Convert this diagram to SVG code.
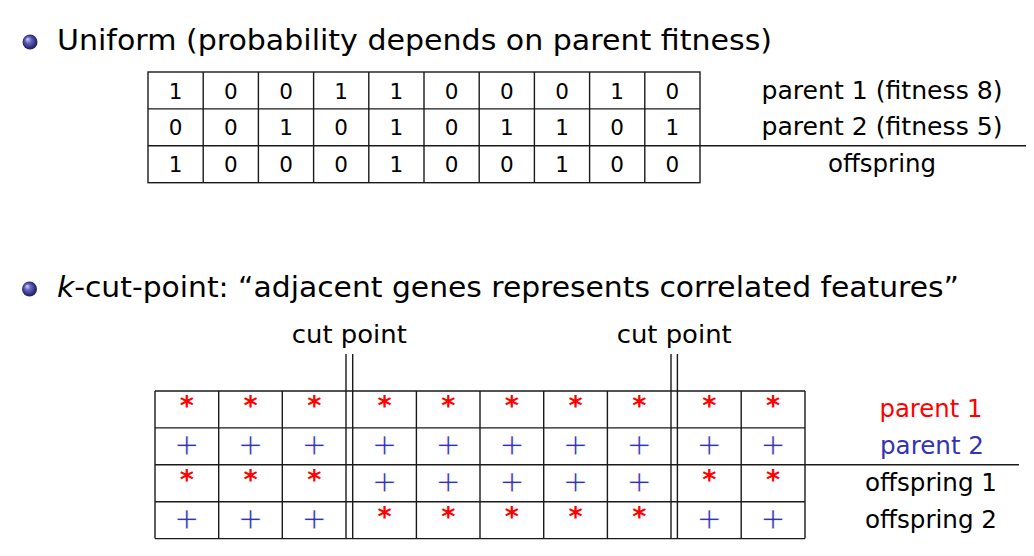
<svg xmlns="http://www.w3.org/2000/svg" width="1034" height="556" viewBox="0 0 1034 556">
<defs>
<radialGradient id="ball" cx="0.5" cy="0.5" r="0.55" fx="0.32" fy="0.3">
<stop offset="0" stop-color="#d8d8ff"/>
<stop offset="0.35" stop-color="#6a6ac0"/>
<stop offset="0.8" stop-color="#2a2a78"/>
<stop offset="1" stop-color="#15154a"/>
</radialGradient>
<style>
text{font-family:"DejaVu Sans","Liberation Sans",sans-serif;fill:#000}
.title{font-size:28px}
.dig{font-size:21.5px;text-anchor:middle}
.lab{font-size:24.5px;text-anchor:middle}
.grid{stroke:#1a1a1a;stroke-width:1.4;fill:none}
.ast{font-size:27px;font-weight:bold;text-anchor:middle;fill:#ff0000}
.pl{font-size:31px;text-anchor:middle;fill:#3333b3;stroke:#fff;stroke-width:0.8}
.red{fill:#ff0000}
.blue{fill:#3333b3}
</style>
</defs>
<rect width="1034" height="556" fill="#fff"/>

<g id="bullet1">
<circle cx="30" cy="42" r="7.5" fill="url(#ball)"/>
<text class="title" x="57" y="49.5" textLength="715" lengthAdjust="spacingAndGlyphs">Uniform (probability depends on parent fitness)</text>
</g>

<g id="uniform-table">
<rect class="grid" x="148" y="72" width="552" height="110.7"/>
<path class="grid" d="M203.2 72V182.7M258.4 72V182.7M313.6 72V182.7M368.8 72V182.7M424 72V182.7M479.2 72V182.7M534.4 72V182.7M589.6 72V182.7M644.8 72V182.7M148 108.9H700M148 145.8H700"/>
<g class="row1">
<text class="dig" x="175.6" y="98.5">1</text><text class="dig" x="230.8" y="98.5">0</text><text class="dig" x="286" y="98.5">0</text><text class="dig" x="341.2" y="98.5">1</text><text class="dig" x="396.4" y="98.5">1</text><text class="dig" x="451.6" y="98.5">0</text><text class="dig" x="506.8" y="98.5">0</text><text class="dig" x="562" y="98.5">0</text><text class="dig" x="617.2" y="98.5">1</text><text class="dig" x="672.4" y="98.5">0</text>
</g>
<g class="row2">
<text class="dig" x="175.6" y="135.4">0</text><text class="dig" x="230.8" y="135.4">0</text><text class="dig" x="286" y="135.4">1</text><text class="dig" x="341.2" y="135.4">0</text><text class="dig" x="396.4" y="135.4">1</text><text class="dig" x="451.6" y="135.4">0</text><text class="dig" x="506.8" y="135.4">1</text><text class="dig" x="562" y="135.4">1</text><text class="dig" x="617.2" y="135.4">0</text><text class="dig" x="672.4" y="135.4">1</text>
</g>
<g class="row3">
<text class="dig" x="175.6" y="172.3">1</text><text class="dig" x="230.8" y="172.3">0</text><text class="dig" x="286" y="172.3">0</text><text class="dig" x="341.2" y="172.3">0</text><text class="dig" x="396.4" y="172.3">1</text><text class="dig" x="451.6" y="172.3">0</text><text class="dig" x="506.8" y="172.3">0</text><text class="dig" x="562" y="172.3">1</text><text class="dig" x="617.2" y="172.3">0</text><text class="dig" x="672.4" y="172.3">0</text>
</g>
<line class="grid" x1="700" y1="145.8" x2="1026" y2="145.8"/>
<text class="lab" x="882" y="98.5" textLength="241" lengthAdjust="spacingAndGlyphs">parent 1 (fitness 8)</text>
<text class="lab" x="882" y="135.4" textLength="241" lengthAdjust="spacingAndGlyphs">parent 2 (fitness 5)</text>
<text class="lab" x="882" y="172.3" textLength="108" lengthAdjust="spacingAndGlyphs">offspring</text>
</g>

<g id="bullet2">
<circle cx="29.5" cy="289" r="7.5" fill="url(#ball)"/>
<text class="title" x="57" y="297" textLength="902" lengthAdjust="spacingAndGlyphs"><tspan font-style="italic">k</tspan>-cut-point: “adjacent genes represents correlated features”</text>
</g>

<g id="cut-table">
<path class="grid" d="M155 391H805M155 427.9H805M155 464.8H805M155 501.7H805M155 538.6H805M155 391V538.6M218.7 391V538.6M282.3 391V538.6M416.4 391V538.6M480 391V538.6M543.7 391V538.6M607.4 391V538.6M741.2 391V538.6M805 391V538.6"/>
<g id="cut1">
<path class="grid" d="M346 354V538.6M352.7 354V538.6"/>
<text class="lab" x="349.3" y="343" textLength="115" lengthAdjust="spacingAndGlyphs">cut point</text>
</g>
<g id="cut2">
<path class="grid" d="M671 354V538.6M677.4 354V538.6"/>
<text class="lab" x="674.2" y="343" textLength="115" lengthAdjust="spacingAndGlyphs">cut point</text>
</g>
<g id="row-parent1">
<text class="ast" x="186.8" y="415">*</text><text class="ast" x="250.5" y="415">*</text><text class="ast" x="314.2" y="415">*</text><text class="ast" x="384.5" y="415">*</text><text class="ast" x="448.2" y="415">*</text><text class="ast" x="511.9" y="415">*</text><text class="ast" x="575.6" y="415">*</text><text class="ast" x="639.2" y="415">*</text><text class="ast" x="709.3" y="415">*</text><text class="ast" x="773.1" y="415">*</text>
</g>
<g id="row-parent2">
<text class="pl" x="186.8" y="455">+</text><text class="pl" x="250.5" y="455">+</text><text class="pl" x="314.2" y="455">+</text><text class="pl" x="384.5" y="455">+</text><text class="pl" x="448.2" y="455">+</text><text class="pl" x="511.9" y="455">+</text><text class="pl" x="575.6" y="455">+</text><text class="pl" x="639.2" y="455">+</text><text class="pl" x="709.3" y="455">+</text><text class="pl" x="773.1" y="455">+</text>
</g>
<g id="row-offspring1">
<text class="ast" x="186.8" y="488.8">*</text><text class="ast" x="250.5" y="488.8">*</text><text class="ast" x="314.2" y="488.8">*</text><text class="pl" x="384.5" y="491.9">+</text><text class="pl" x="448.2" y="491.9">+</text><text class="pl" x="511.9" y="491.9">+</text><text class="pl" x="575.6" y="491.9">+</text><text class="pl" x="639.2" y="491.9">+</text><text class="ast" x="709.3" y="488.8">*</text><text class="ast" x="773.1" y="488.8">*</text>
</g>
<g id="row-offspring2">
<text class="pl" x="186.8" y="528.8">+</text><text class="pl" x="250.5" y="528.8">+</text><text class="pl" x="314.2" y="528.8">+</text><text class="ast" x="384.5" y="525.7">*</text><text class="ast" x="448.2" y="525.7">*</text><text class="ast" x="511.9" y="525.7">*</text><text class="ast" x="575.6" y="525.7">*</text><text class="ast" x="639.2" y="525.7">*</text><text class="pl" x="709.3" y="528.8">+</text><text class="pl" x="773.1" y="528.8">+</text>
</g>
<line class="grid" x1="805" y1="464.8" x2="1019" y2="464.8"/>
<text class="lab red" x="931" y="417" textLength="103" lengthAdjust="spacingAndGlyphs">parent 1</text>
<text class="lab blue" x="932" y="453.5" textLength="104" lengthAdjust="spacingAndGlyphs">parent 2</text>
<text class="lab" x="931" y="490.5" textLength="132" lengthAdjust="spacingAndGlyphs">offspring 1</text>
<text class="lab" x="931" y="527.5" textLength="132" lengthAdjust="spacingAndGlyphs">offspring 2</text>
</g>
</svg>
